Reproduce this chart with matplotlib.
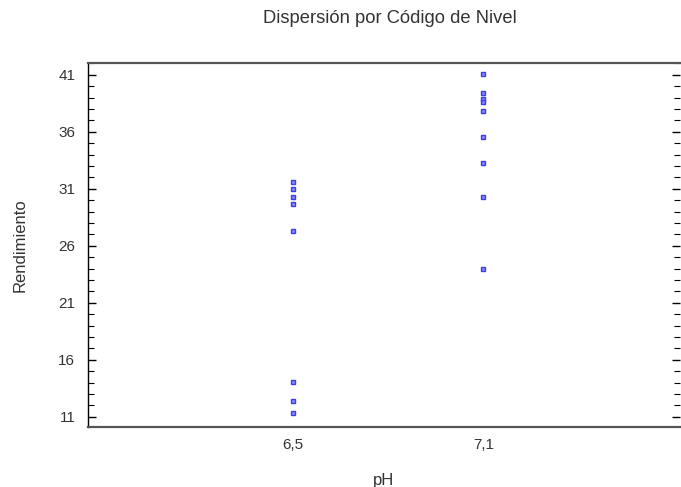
import matplotlib.pyplot as plt
from matplotlib.ticker import MultipleLocator, FixedLocator

plt.rcParams['font.family'] = ['Liberation Sans', 'DejaVu Sans']

# Rendimiento por nivel de pH
niveles = ['6,5', '7,1']
rend_65 = [31.6, 30.95, 30.3, 29.67, 27.29, 14.03, 12.38, 11.36]
rend_71 = [41.06, 39.37, 38.9, 38.65, 37.8, 35.53, 33.3, 30.28, 23.94]

fig = plt.figure(figsize=(6.81, 4.87), dpi=100)
ax = fig.add_axes([0.129, 0.123, 0.869, 0.748])

azul = '#3c3cf0'
for i, valores in enumerate([rend_65, rend_71]):
    ax.plot([i + 1] * len(valores), valores, linestyle='none', marker='s',
            markersize=3.4, markerfacecolor='#8c8cff', markeredgecolor=azul,
            markeredgewidth=1)

ax.set_xlim(-0.074, 3.03)
ax.set_ylim(10.1, 42.05)
ax.xaxis.set_major_locator(FixedLocator([1, 2]))
ax.set_xticklabels(niveles)
ax.yaxis.set_major_locator(FixedLocator([11, 16, 21, 26, 31, 36, 41]))
ax.yaxis.set_minor_locator(MultipleLocator(1))

ax.tick_params(axis='x', length=0, labelsize=11, pad=8, colors='#333333')
ax.tick_params(axis='y', which='major', direction='in', length=6, width=1,
               labelsize=11, right=True, pad=9, labelcolor='#333333')
ax.tick_params(axis='y', which='minor', direction='in', length=4, width=0.8,
               right=True)

ax.spines['left'].set_color('black')
ax.spines['left'].set_linewidth(1)
for lado in ['top', 'bottom']:
    ax.spines[lado].set_color('#555555')
    ax.spines[lado].set_linewidth(1.6)
ax.spines['right'].set_visible(False)

ax.set_xlabel('pH', fontsize=12, color='#333333', labelpad=15)
ax.set_ylabel('Rendimiento', fontsize=12, color='#333333', labelpad=22)
fig.text(0.573, 0.963, 'Dispersión por Código de Nivel', ha='center', va='center',
         fontsize=13.2, color='#333333')

fig.savefig('out.png', dpi=100)
